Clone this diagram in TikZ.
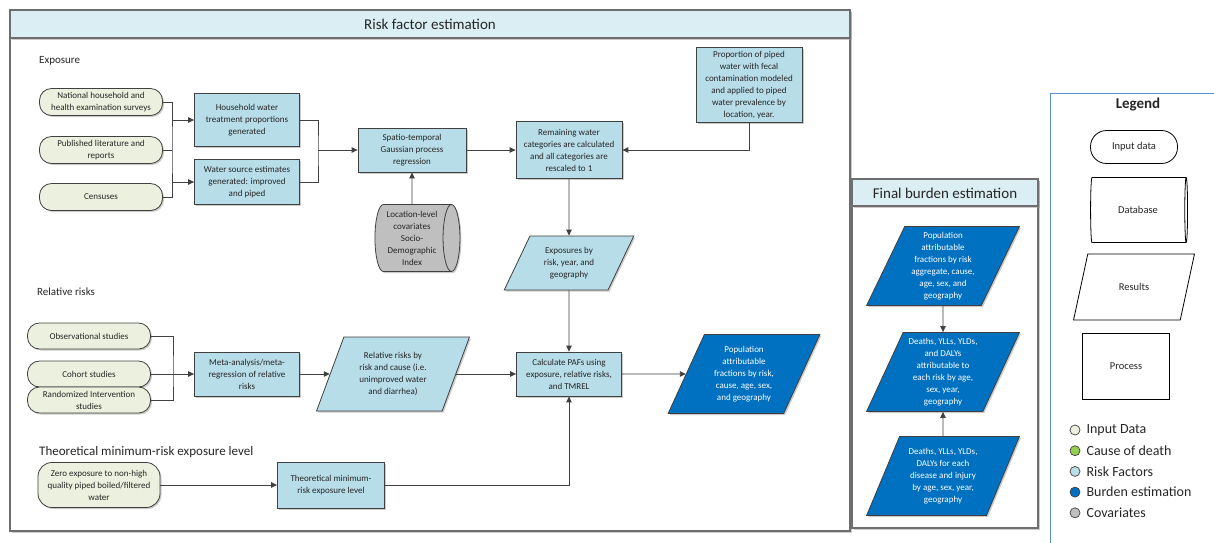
\documentclass[tikz,border=0pt]{standalone}
\usepackage{fontspec}
\setmainfont{Carlito}
\usetikzlibrary{positioning, arrows.meta, shapes.geometric, shadows}

\definecolor{InputGreen}{RGB}{235,241,222}
\definecolor{RiskBlue}{RGB}{183,221,232}
\definecolor{BurdenBlue}{RGB}{0,112,192}
\definecolor{HeadBlue}{RGB}{218,238,243}
\definecolor{CovGray}{RGB}{191,191,191}
\definecolor{CodGreen}{RGB}{146,208,80}
\definecolor{LineGray}{RGB}{64,64,64}
\definecolor{FrameGray}{RGB}{110,110,110}
\definecolor{LegendBlue}{RGB}{84,141,212}

\begin{document}
\begin{tikzpicture}[
  x=1pt, y=-1pt,
  every node/.style={font=\fontsize{9}{12}\selectfont, text=black!85, inner sep=1pt, align=center},
  boxshadow/.style={drop shadow={shadow xshift=1.5pt, shadow yshift=-1.5pt, fill=black!40}},
  frame/.style={draw=FrameGray, line width=1.2pt, fill=white, boxshadow},
  inbox/.style={rectangle, draw=LineGray, line width=0.8pt, fill=InputGreen, rounded corners=12pt, minimum width=123pt, minimum height=27pt, boxshadow},
  box/.style={rectangle, draw=LineGray, line width=0.8pt, fill=RiskBlue, minimum width=105pt, boxshadow},
  resbox/.style={trapezium, trapezium left angle=63, trapezium right angle=117, trapezium stretches=true, draw=LineGray, line width=0.8pt, fill=RiskBlue, boxshadow},
  burdenbox/.style={resbox, fill=BurdenBlue, text=white, trapezium left angle=65, trapezium right angle=115, minimum width=153pt, minimum height=79pt},
  dbbox/.style={cylinder, aspect=0.3, draw=LineGray, line width=0.8pt, fill=CovGray, minimum width=67pt, minimum height=85pt, boxshadow},
  lgshape/.style={draw=black, line width=0.8pt, fill=white, font=\fontsize{10.5}{12}\selectfont},
  dot/.style={circle, draw=LineGray, line width=0.7pt, minimum size=10pt, inner sep=0pt},
  legitem/.style={font=\fontsize{14}{16}\selectfont, anchor=west, inner sep=0pt},
  arr/.style={-{Triangle[length=6pt, width=5.5pt]}, LineGray, line width=0.9pt},
  line/.style={LineGray, line width=0.9pt},
  heading/.style={font=\fontsize{15}{18}\selectfont},
  sublabel/.style={anchor=west, font=\fontsize{11}{13}\selectfont}
]
\useasboundingbox (0,0) rectangle (1214,542);

% panels
\draw[frame] (10,10) rectangle (850,531);
\draw[frame, fill=HeadBlue] (10,10) rectangle (850,38);
\draw[frame] (852,179) rectangle (1038,528);
\draw[frame, fill=HeadBlue] (852,179) rectangle (1038,206);
\node[heading] (rftitle) at (430,24) {Risk factor estimation};
\node[heading] (fbtitle) at (945,193) {Final burden estimation};

% exposure
\node[sublabel] (explbl) at (38,61) {Exposure};
\node[inbox] (nhs) at (101,102) {National household and\\health examination surveys};
\node[inbox] (lit) at (101,150) {Published literature and\\reports};
\node[inbox] (cen) at (101,197) {Censuses};
\node[box, minimum height=53pt] (hwt) at (247,120) {Household water\\treatment proportions\\generated};
\node[box, minimum height=45pt] (wse) at (247,182) {Water source estimates\\generated: improved\\and piped};
\node[box, minimum width=108pt, minimum height=44pt] (gpr) at (412,150) {Spatio-temporal\\Gaussian process\\regression};
\node[box, minimum width=106pt, minimum height=57pt] (rem) at (569,150) {Remaining water\\categories are calculated\\and all categories are\\rescaled to 1};
\node[box, minimum width=106pt, minimum height=75pt] (fecal) at (749,85) {Proportion of piped\\water with fecal\\contamination modeled\\and applied to piped\\water prevalence by\\location, year.};
\node[dbbox] (cov) at (412,238) {Location-level\\covariates\\Socio-\\Demographic\\Index};
\node[resbox, minimum width=130pt, minimum height=54pt] (expo) at (569,263) {Exposures by\\risk, year, and\\geography};

\coordinate (jin) at (172,150);
\draw[line] (nhs.east) -| (jin) |- (cen.east);
\draw[line] (lit.east) -- (jin);
\draw[arr] (jin |- hwt.west) -- (hwt.west);
\draw[arr] (jin |- wse.west) -- (wse.west);
\coordinate (jbox) at (318,150);
\draw[line] (hwt.east) -| (jbox) |- (wse.east);
\draw[arr] (jbox) -- (gpr.west);
\draw[arr] (gpr.east) -- (rem.west);
\draw[arr] (fecal.south) |- (rem.east);
\draw[arr] (cov.north) -- (gpr.south);
\draw[arr] (rem.south) -- (expo.north);

% relative risks
\node[sublabel] (rrlbl) at (36,292) {Relative risks};
\node[inbox, minimum height=26pt] (obs) at (89,336) {Observational studies};
\node[inbox, minimum height=26pt] (coh) at (89,374) {Cohort studies};
\node[inbox, minimum height=26pt] (rct) at (89,400) {Randomized Intervention\\studies};
\node[box, minimum height=44pt] (meta) at (247,374) {Meta-analysis/meta-\\regression of relative\\risks};
\node[resbox, minimum width=153pt, minimum height=74pt, trapezium left angle=67, trapezium right angle=113] (rr) at (393,374) {Relative risks by\\risk and cause (i.e.\\unimproved water\\and diarrhea)};
\node[box, minimum height=44pt] (paf) at (569,374) {Calculate PAFs using\\exposure, relative risks,\\and TMREL};
\node[burdenbox, minimum width=152pt, trapezium left angle=64, trapezium right angle=116] (pafout) at (744,374) {Population\\attributable\\fractions by risk,\\cause, age, sex,\\and geography};

\coordinate (jrr) at (173,374);
\draw[line] (obs.east) -| (jrr) |- (rct.east);
\draw[line] (coh.east) -- (jrr);
\draw[arr] (jrr) -- (meta.west);
\draw[arr] (meta.east) -- (rr.west);
\draw[arr] (rr.east) -- (paf.west);
\draw[arr] (paf.east) -- (pafout.west);
\draw[arr] (expo.south) -- (paf.north);

% TMREL
\node[sublabel, font=\fontsize{13}{15}\selectfont] (tmlbl) at (38,452) {Theoretical minimum-risk exposure level};
\node[inbox, minimum width=122pt, minimum height=45pt, rounded corners=14pt] (zero) at (99,485) {Zero exposure to non-high\\quality piped boiled/filtered\\water};
\node[box, minimum width=107pt, minimum height=46pt] (tmrel) at (331,485) {Theoretical minimum-\\risk exposure level};
\draw[arr] (zero.east) -- (tmrel.west);
\draw[arr] (tmrel.east) -| (paf.south);

% final burden
\node[burdenbox] (b1) at (943,266) {Population\\attributable\\fractions by risk\\aggregate, cause,\\age, sex, and\\geography};
\node[burdenbox] (b2) at (943,372) {Deaths, YLLs, YLDs,\\and DALYs\\attributable to\\each risk by age,\\sex, year,\\geography};
\node[burdenbox] (b3) at (943,476) {Deaths, YLLs, YLDs,\\DALYs for each\\disease and injury\\by age, sex, year,\\geography};
\draw[arr] (b1.south) -- (b2.north);
\draw[arr] (b3.north) -- (b2.south);

% legend
\draw[LegendBlue, line width=0.9pt] (1050,545) -- (1050,93) -- (1216,93);
\node[font=\bfseries\fontsize{15}{18}\selectfont] (legtitle) at (1138,105) {Legend};
\node[lgshape, rectangle, rounded corners=16pt, minimum width=87pt, minimum height=33pt] (lgin) at (1134,147) {Input data};
\node[lgshape, cylinder, aspect=0.3, minimum width=65pt, minimum height=97pt] (lgdb) at (1138,210) {Database};
\node[lgshape, trapezium, trapezium left angle=62, trapezium right angle=118, trapezium stretches=true, minimum width=121pt, minimum height=66pt] (lgres) at (1134,287) {Results};
\node[lgshape, rectangle, minimum width=87pt, minimum height=66pt] (lgproc) at (1126,366) {Process};
\foreach \col/\txt [count=\i] in {InputGreen/Input Data, CodGreen/Cause of death, RiskBlue/Risk Factors, BurdenBlue/Burden estimation, CovGray/Covariates}{
  \node[dot, fill=\col] (dot\i) at (1075,{409.3+20.7*\i}) {};
  \node[legitem, right=6pt of dot\i] (item\i) {\txt};
}
\end{tikzpicture}
\end{document}
